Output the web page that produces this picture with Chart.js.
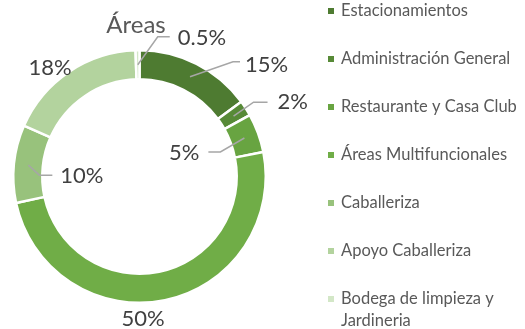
<!DOCTYPE html>
<html>
<head>
<meta charset="utf-8">
<script src="https://cdn.jsdelivr.net/npm/chart.js@4/dist/chart.umd.min.js"></script>
<style>
  html, body { margin: 0; padding: 0; background: #fff; }
  #wrap { width: 525px; height: 329px; position: relative; }
</style>
</head>
<body>
<div id="wrap"><canvas id="areas"></canvas></div>
<script>
var chartTitle = 'Áreas';
var areaNames = ['Estacionamientos', 'Administración General', 'Restaurante y Casa Club',
  'Áreas Multifuncionales', 'Caballeriza', 'Apoyo Caballeriza', 'Bodega de limpieza y Jardineria'];
var areaPercent = [15, 2, 5, 50, 10, 18, 0.5];
var areaLabels = ['15%', '2%', '5%', '50%', '10%', '18%', '0.5%'];
var areaColors = ['#4e7b31', '#578a37', '#68a441', '#70ad47', '#98c27c', '#b3d39e', '#d3e7c7'];

// where each value label sits, relative to the middle of its slice
// [textX, textY, align, elbowX, elbowY, endX]  (no elbow = no leader line)
var labelSpots = [
  [55, -12, 'left', 43, -15, 50],
  [44, -14, 'left', 20, -14, 34],
  [-45, 15, 'right', -24, 14, -36],
  [-19, 33, 'center'],
  [32, 11, 'left', 11, 10, 24],
  [-27, -16, 'center'],
  [40, -27, 'left', 20, -28, 32]
];

var labelFont = '22px Lato';
var legendFont = '16.5px Lato';

var sideStuff = {
  id: 'sideStuff',
  afterDraw: function(chart) {
    var ctx = chart.ctx;
    var arcs = chart.getDatasetMeta(0).data;
    ctx.save();

    // title
    ctx.font = '24px Lato';
    ctx.fillStyle = '#595959';
    ctx.textAlign = 'center';
    ctx.textBaseline = 'alphabetic';
    ctx.fillText(chartTitle, 136, 33);

    // value labels with leader lines
    ctx.font = labelFont;
    ctx.textBaseline = 'middle';
    arcs.forEach(function(arc, i) {
      var p = arc.getCenterPoint();
      var s = labelSpots[i];
      if (s.length > 3) {
        ctx.strokeStyle = '#a6a6a6';
        ctx.lineWidth = 1.5;
        ctx.beginPath();
        ctx.moveTo(p.x, p.y);
        ctx.lineTo(p.x + s[3], p.y + s[4]);
        ctx.lineTo(p.x + s[5], p.y + s[4]);
        ctx.stroke();
      }
      ctx.fillStyle = '#404040';
      ctx.textAlign = s[2];
      ctx.fillText(areaLabels[i], p.x + s[0], p.y + s[1]);
    });

    // legend on the right
    ctx.font = legendFont;
    ctx.textAlign = 'left';
    var lx = 328, ty = 11, rowGap = 48, maxW = 180;
    areaNames.forEach(function(name, i) {
      var y = ty + i * rowGap;
      ctx.fillStyle = areaColors[i];
      ctx.fillRect(lx, y - 3, 6, 6);
      ctx.fillStyle = '#595959';
      // wrap long names onto a second line
      var words = name.split(' '), line = '', lines = [];
      words.forEach(function(w) {
        var test = line ? line + ' ' + w : w;
        if (ctx.measureText(test).width > maxW && line) {
          lines.push(line);
          line = w;
        } else {
          line = test;
        }
      });
      lines.push(line);
      lines.forEach(function(l, k) {
        ctx.fillText(l, lx + 13, y + k * 22);
      });
    });
    ctx.restore();
  }
};

new Chart(document.getElementById('areas'), {
  type: 'doughnut',
  data: {
    labels: areaNames,
    datasets: [{
      data: areaPercent,
      backgroundColor: areaColors,
      borderColor: '#ffffff',
      borderWidth: 2.5
    }]
  },
  options: {
    responsive: true,
    maintainAspectRatio: false,
    animation: false,
    cutout: '77%',
    layout: { padding: { left: 12, top: 49, right: 258, bottom: 25 } },
    plugins: {
      legend: { display: false },
      tooltip: { enabled: false }
    }
  },
  plugins: [sideStuff]
});
</script>
</body>
</html>
